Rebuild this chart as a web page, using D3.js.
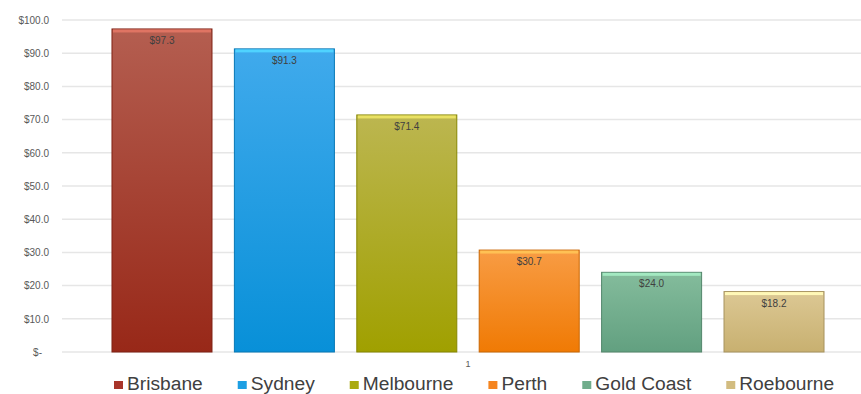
<!DOCTYPE html>
<html>
<head>
<meta charset="utf-8">
<script src="https://cdn.jsdelivr.net/npm/d3@7"></script>
<style>
  body { margin: 0; background: #fff; }
  svg { display: block; font-family: "Liberation Sans", Arial, sans-serif; }
</style>
</head>
<body>
<div id="chart"></div>
<script>
var categories = ["1"];
var cities = ["Brisbane", "Sydney", "Melbourne", "Perth", "Gold Coast", "Roebourne"];
var values = [97.3, 91.3, 71.4, 30.7, 24.0, 18.2];
var yTicks = [0, 10, 20, 30, 40, 50, 60, 70, 80, 90, 100];
// top / bottom gradient stops for each bar
var topColors = ["#b45e50", "#40aaec", "#bcb650", "#f89c44", "#84bc9c", "#dcc894"];
var botColors = ["#982818", "#0890d8", "#a0a000", "#f07a04", "#62a080", "#c8b070"];
var legendColors = ["#a8352a", "#1d9fe3", "#aaaa10", "#f58520", "#70ad8c", "#d2bc80"];

var width = 861, height = 394;
var margin = {top: 20, left: 62, bottom: 42};
var plotRight = 874;

var svg = d3.select('#chart').append('svg')
    .attr('width', width)
    .attr('height', height);

var defs = svg.append('defs');
cities.forEach(function(c, i) {
    var g = defs.append('linearGradient')
        .attr('id', 'grad' + i)
        .attr('x1', 0).attr('y1', 0).attr('x2', 0).attr('y2', 1);
    g.append('stop').attr('offset', '0%').attr('stop-color', topColors[i]);
    g.append('stop').attr('offset', '100%').attr('stop-color', botColors[i]);
});

var y = d3.scaleLinear()
    .domain([0, 100])
    .range([height - margin.bottom, margin.top]);

var x0 = d3.scaleBand()
    .domain(categories)
    .range([margin.left, plotRight])
    .paddingOuter(0.0702);

var x1 = d3.scaleBand()
    .domain(cities)
    .range([x0(categories[0]), x0(categories[0]) + x0.bandwidth()])
    .paddingInner(0.183);

// gridlines
svg.append('g')
    .selectAll('line')
    .data(yTicks)
    .enter().append('line')
    .attr('x1', margin.left)
    .attr('x2', width)
    .attr('y1', function(d) { return y(d); })
    .attr('y2', function(d) { return y(d); })
    .style('stroke', '#e6e6e6')
    .style('stroke-width', 1.5);

// y axis labels
var yAxis = d3.axisLeft(y)
    .tickValues(yTicks)
    .tickSize(0)
    .tickPadding(0)
    .tickFormat(function(d) { return d === 0 ? '$-' : '$' + d.toFixed(1); });

var yg = svg.append('g')
    .attr('transform', 'translate(49,0)')
    .call(yAxis);
yg.select('.domain').remove();
yg.selectAll('text')
    .style('font-size', '10px')
    .style('fill', '#595959')
    .attr('x', function(d) { return d === 0 ? -7 : 0; });

// bars
var barG = svg.append('g');
barG.selectAll('rect.bar')
    .data(values)
    .enter().append('rect')
    .attr('class', 'bar')
    .attr('x', function(d, i) { return x1(cities[i]); })
    .attr('y', function(d) { return y(d); })
    .attr('width', x1.bandwidth())
    .attr('height', function(d) { return y(0) - y(d); })
    .style('fill', function(d, i) { return 'url(#grad' + i + ')'; })
    .style('stroke', function(d, i) { return d3.color(botColors[i]).darker(0.5); })
    .style('stroke-width', 1);

// top bevel highlight
barG.selectAll('rect.bevel')
    .data(values)
    .enter().append('rect')
    .attr('class', 'bevel')
    .attr('x', function(d, i) { return x1(cities[i]) + 1; })
    .attr('y', function(d) { return y(d) + 0.5; })
    .attr('width', x1.bandwidth() - 2)
    .attr('height', 3)
    .style('fill', function(d, i) { return d3.color(topColors[i]).brighter(0.6); });

// value labels
barG.selectAll('text.val')
    .data(values)
    .enter().append('text')
    .attr('class', 'val')
    .attr('x', function(d, i) { return x1(cities[i]) + x1.bandwidth() / 2; })
    .attr('y', function(d) { return y(d) + 15; })
    .attr('text-anchor', 'middle')
    .style('font-size', '10px')
    .style('fill', '#404040')
    .text(function(d) { return '$' + d.toFixed(1); });

// x axis label
var xAxis = d3.axisBottom(x0).tickSize(0).tickPadding(9);
var xg = svg.append('g')
    .attr('transform', 'translate(0,' + y(0) + ')')
    .call(xAxis);
xg.select('.domain').remove();
xg.selectAll('text')
    .style('font-size', '9px')
    .style('fill', '#595959');

// legend
var legend = svg.append('g');
var lx = 114;
cities.forEach(function(c, i) {
    legend.append('rect')
        .attr('x', lx)
        .attr('y', 381)
        .attr('width', 9)
        .attr('height', 8)
        .style('fill', legendColors[i]);
    var t = legend.append('text')
        .attr('x', lx + 13)
        .attr('y', 390)
        .style('font-size', '19.2px')
        .style('fill', '#404040')
        .text(c);
    lx += 13 + t.node().getComputedTextLength() + 35;
});
</script>
</body>
</html>
